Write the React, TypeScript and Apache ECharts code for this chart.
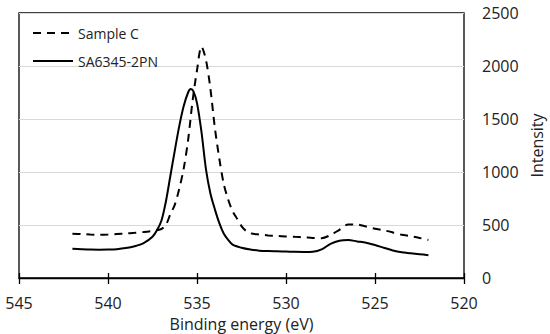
import React, { useEffect, useRef } from "react";
import * as echarts from "echarts";

const energySolid = [542, 541.5, 541, 540.5, 540, 539.5, 539, 538.5, 538, 537.5, 537.25, 537, 536.75, 536.5, 536.25, 536, 535.75, 535.5, 535.35, 535.2, 535, 534.75, 534.5, 534.25, 534, 533.75, 533.5, 533.25, 533, 532.5, 532, 531.5, 531, 530.5, 530, 529.5, 529, 528.5, 528, 527.5, 527, 526.5, 526, 525.5, 525, 524.5, 524, 523.5, 523, 522.5, 522];
const intensitySolid = [277, 272, 268, 267, 268, 272, 282, 300, 330, 390, 450, 540, 720, 960, 1200, 1430, 1620, 1750, 1783, 1760, 1650, 1380, 1030, 800, 650, 520, 420, 360, 315, 285, 268, 258, 254, 252, 250, 247, 246, 248, 270, 322, 352, 358, 345, 333, 312, 285, 260, 243, 234, 225, 215];

const energyDashed = [542, 541.5, 541, 540.5, 540, 539.5, 539, 538.5, 538, 537.5, 537, 536.75, 536.5, 536.25, 536, 535.75, 535.5, 535.25, 535, 534.75, 534.5, 534.25, 534, 533.75, 533.5, 533.25, 533, 532.75, 532.5, 532.25, 532, 531.5, 531, 530.5, 530, 529.5, 529, 528.5, 528, 527.5, 527, 526.5, 526, 525.5, 525, 524.5, 524, 523.5, 523, 522.5, 522];
const intensityDashed = [418, 414, 410, 408, 410, 415, 420, 426, 434, 445, 462, 500, 600, 690, 840, 1030, 1300, 1670, 1960, 2183, 2060, 1790, 1420, 1130, 890, 740, 630, 560, 490, 445, 422, 410, 402, 396, 392, 388, 384, 378, 376, 405, 455, 505, 505, 485, 465, 450, 430, 408, 395, 378, 358];

const seriesNames = ["Sample C", "SA6345-2PN"];
const xTitle = "Binding energy (eV)";
const yTitle = "Intensity";

const FONT = "Open Sans";
const TXT = "#222";

export default function App() {
  const ref = useRef<HTMLDivElement>(null);
  useEffect(() => {
    if (!ref.current) return;
    const chart = echarts.init(ref.current, undefined, { renderer: "svg" });
    const xBase = {
      type: "value" as const,
      min: 520,
      max: 545,
      interval: 5,
      inverse: true,
      position: "bottom" as const,
      splitLine: { show: false },
    };
    chart.setOption({
      animation: false,
      textStyle: { fontFamily: FONT },
      grid: {
        left: 19,
        right: 86,
        top: 13,
        bottom: 56,
        show: true,
        borderColor: "#000",
        borderWidth: 1.3,
        containLabel: false,
        outerBoundsMode: "none",
      },
      legend: {
        orient: "vertical",
        left: 32,
        top: 26,
        itemWidth: 40,
        itemHeight: 14,
        itemGap: 14,
        padding: 0,
        itemStyle: { opacity: 0 },
        textStyle: { fontFamily: FONT, fontSize: 14, color: TXT },
        data: seriesNames,
      },
      xAxis: [
        {
          ...xBase,
          name: xTitle,
          nameLocation: "middle",
          nameGap: 31,
          nameTextStyle: { fontFamily: FONT, fontSize: 16, color: TXT },
          axisLine: { show: true, lineStyle: { color: "#000", width: 1.3 } },
          axisTick: { show: true, inside: false, length: 6, lineStyle: { color: "#000", width: 1.3 } },
          axisLabel: { fontFamily: FONT, fontSize: 16, color: TXT, margin: 17 },
        },
        {
          ...xBase,
          axisLine: { show: false },
          axisTick: { show: true, inside: true, length: 5, lineStyle: { color: "#000", width: 1.3 } },
          axisLabel: { show: false },
        },
      ],
      yAxis: {
        type: "value",
        position: "right",
        min: 0,
        max: 2500,
        interval: 500,
        name: yTitle,
        nameLocation: "middle",
        nameGap: 64,
        nameRotate: 90,
        nameTextStyle: { fontFamily: FONT, fontSize: 16, color: TXT },
        axisLine: { show: false },
        axisTick: { show: false },
        axisLabel: { fontFamily: FONT, fontSize: 16, color: TXT, margin: 18, formatter: (v: number) => String(v) },
        splitLine: { show: true, lineStyle: { color: "#d9d9d9", width: 1 } },
      },
      series: [
        {
          name: seriesNames[0],
          type: "line",
          xAxisIndex: 0,
          symbol: "none",
          smooth: 0.3,
          data: energyDashed.map((e, i) => [e, intensityDashed[i]]),
          lineStyle: { color: "#000", width: 2, type: [8, 6] },
          itemStyle: { color: "#000" },
        },
        {
          name: seriesNames[1],
          type: "line",
          xAxisIndex: 0,
          symbol: "none",
          smooth: 0.3,
          data: energySolid.map((e, i) => [e, intensitySolid[i]]),
          lineStyle: { color: "#000", width: 2, type: "solid" },
          itemStyle: { color: "#000" },
        },
      ],
    });
    return () => chart.dispose();
  }, []);
  return <div ref={ref} style={{ width: 550, height: 334, position: "absolute", left: 0, top: 0 }} />;
}
